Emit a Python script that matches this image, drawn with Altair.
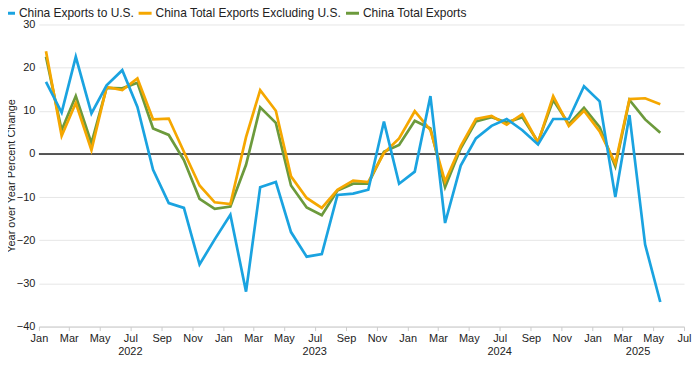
import altair as alt
import pandas as pd

months = pd.date_range("2022-01-01", "2025-05-01", freq="MS")

us = [16.7, 9.6, 22.5, 9.4, 15.9, 19.4, 10.9, -3.7, -11.4, -12.5, -25.6, -19.8,
      -14.1, -31.9, -7.7, -6.5, -18.1, -23.8, -23.2, -9.5, -9.2, -8.3, 7.5, -6.9,
      -4.1, 13.4, -16.0, -2.7, 3.6, 6.5, 8.1, 5.5, 2.2, 8.1, 8.1, 15.7,
      12.2, -10.0, 9.0, -21.0, -34.3]
excl = [23.8, 4.2, 11.8, 0.9, 15.5, 14.8, 17.5, 8.0, 8.2, 0.5, -7.3, -11.2,
        -11.6, 3.9, 14.8, 10.0, -5.2, -10.2, -12.5, -8.3, -6.2, -6.5, 0.2, 3.6,
        9.9, 5.5, -6.4, 1.8, 8.1, 8.8, 6.8, 9.2, 2.6, 13.4, 6.5, 10.0,
        5.2, -2.2, 12.7, 12.9, 11.5]
total = [22.5, 5.5, 13.4, 2.5, 15.3, 15.2, 16.5, 5.9, 4.4, -1.4, -10.4, -12.7,
         -12.2, -2.5, 10.8, 7.2, -7.3, -12.4, -14.2, -8.5, -6.9, -6.9, 0.5, 2.1,
         7.7, 5.9, -7.7, 1.3, 7.5, 8.5, 7.3, 8.5, 2.8, 12.5, 6.9, 10.7,
         6.2, -2.9, 12.5, 8.0, 4.9]

series_names = ["China Exports to U.S.", "China Total Exports Excluding U.S.", "China Total Exports"]
colors = ["#1aa3e0", "#f5a700", "#6c9a3c"]

years = ["2022", "2023", "2024", "2025"]
year_dates = ["2022-07-01", "2023-07-01", "2024-07-01", "2025-04-01"]

rows = []
for name, vals in zip(series_names, [us, excl, total]):
    for m, v in zip(months, vals):
        rows.append({"date": (m + pd.Timedelta(days=14)).strftime("%Y-%m-%d"),
                     "series": name, "value": v})
df = pd.DataFrame(rows)

tick_dates = pd.date_range("2022-01-01", "2025-07-01", freq="2MS")
tick_values = [alt.DateTime(year=d.year, month=d.month, date=1, utc=True) for d in tick_dates]

x_scale = alt.Scale(type="utc", domain=[alt.DateTime(year=2022, month=1, date=1, utc=True),
                                        alt.DateTime(year=2025, month=7, date=1, utc=True)])

x_axis = alt.Axis(values=tick_values, format="%b", labelAngle=0, grid=False,
                  domainColor="#cccccc", tickColor="#cccccc", tickSize=4,
                  labelPadding=2, title=None, labelFontSize=11, labelColor="#222",
                  labelOverlap=False, labelFlush=False, labelBound=False,
                  labelSeparation=0)
x_enc = alt.X("date:T", scale=x_scale, axis=x_axis)

color_enc = alt.Color("series:N",
                      scale=alt.Scale(domain=series_names, range=colors),
                      legend=alt.Legend(orient="none", legendX=-39, legendY=-20,
                                        direction="horizontal", title=None,
                                        symbolType="stroke", symbolStrokeWidth=3,
                                        symbolSize=170, labelFontSize=12,
                                        columnPadding=-3, labelColor="#222",
                                        labelOffset=2, labelLimit=0))

y_enc = alt.Y("value:Q", scale=alt.Scale(domain=[-40, 30]),
              axis=alt.Axis(values=list(range(-40, 31, 10)),
                            title="Year over Year Percent Change",
                            titleFontSize=11, titleFontWeight="normal", titleColor="#222",
                            titlePadding=0, grid=True, gridColor="#e6e6e6",
                            domain=False, ticks=False, labelPadding=4,
                            labelFontSize=11, labelColor="#222"))

base = alt.Chart(df)

zero = alt.Chart(pd.DataFrame({"y": [0]})).mark_rule(color="#222", strokeWidth=1.5).encode(y="y:Q")

layers = []
for name in reversed(series_names):
    layers.append(base.transform_filter(alt.datum.series == name)
                  .mark_line(strokeWidth=2.7)
                  .encode(x=x_enc, y=y_enc, color=color_enc))

year_df = pd.DataFrame({"date": year_dates, "label": years})
year_text = alt.Chart(year_df).mark_text(fontSize=11, color="#222", baseline="middle").encode(
    x=x_enc, y=alt.value(329), text="label:N")

chart = alt.layer(zero, *layers, year_text).properties(
    width=647, height=303,
    padding={"left": 31, "top": 16, "right": 8, "bottom": 30},
    autosize=alt.AutoSizeParams(type="none"),
).configure(font="Liberation Sans").configure_view(stroke=None)

chart.save("out.html", embed_options={"renderer": "svg", "actions": False})
